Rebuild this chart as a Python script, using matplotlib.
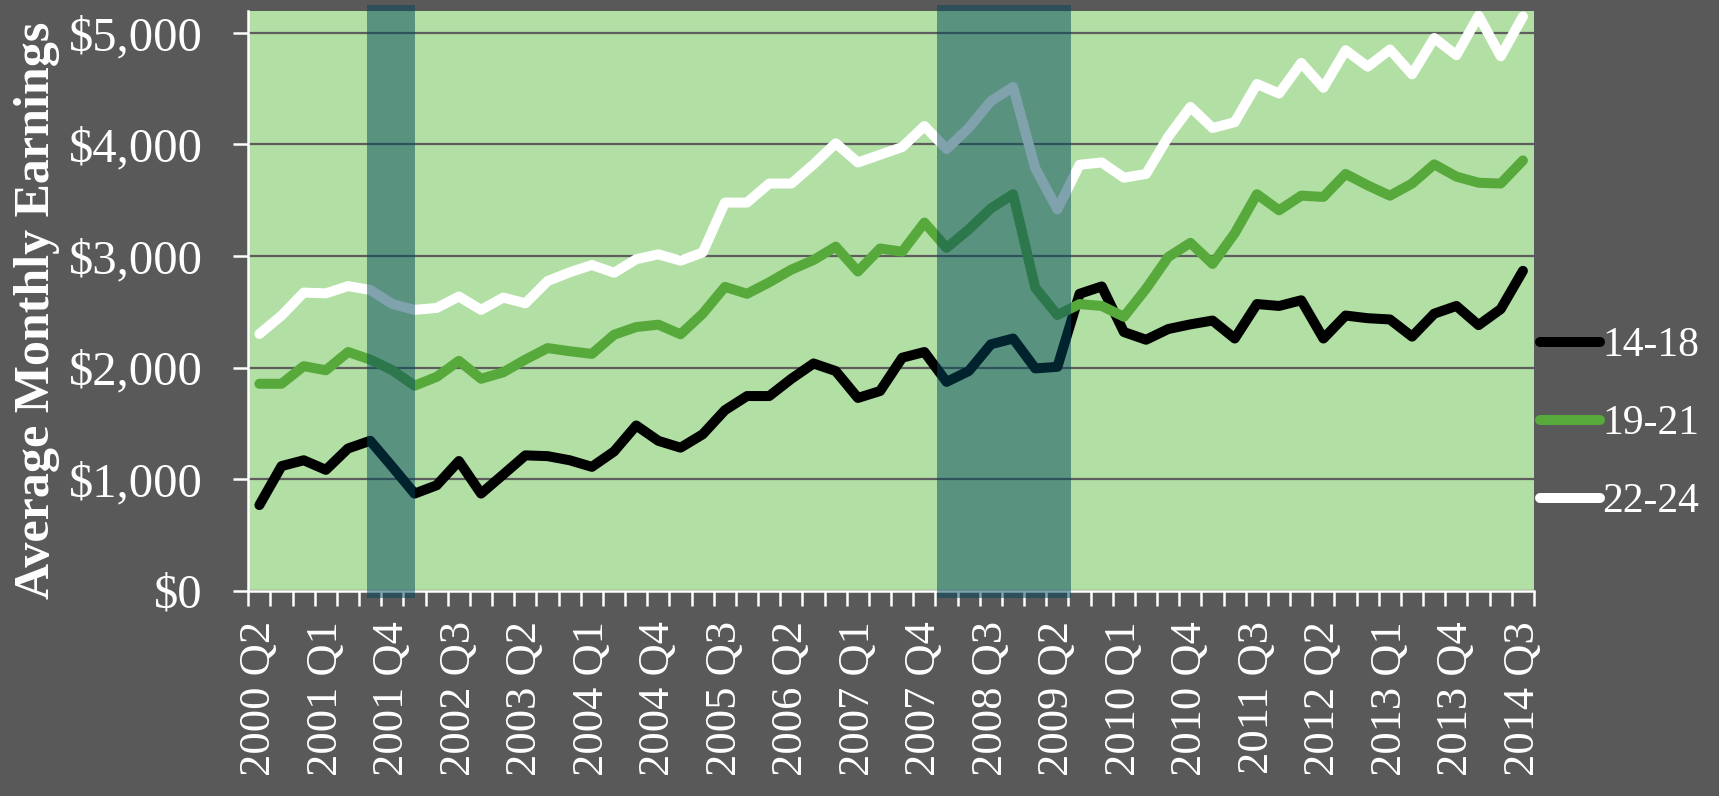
import matplotlib
matplotlib.use("Agg")
import matplotlib.pyplot as plt
from matplotlib.ticker import FixedLocator

# ---------------- data ----------------
tick_labels = ["2000 Q2", "2001 Q1", "2001 Q4", "2002 Q3", "2003 Q2", "2004 Q1",
               "2004 Q4", "2005 Q3", "2006 Q2", "2007 Q1", "2007 Q4", "2008 Q3",
               "2009 Q2", "2010 Q1", "2010 Q4", "2011 Q3", "2012 Q2", "2013 Q1",
               "2013 Q4", "2014 Q3"]

earn_14_18 = [766, 1116, 1168, 1082, 1274, 1343, 1109, 869, 944, 1161,
              869, 1040, 1212, 1205, 1168, 1109, 1247, 1480, 1342, 1281,
              1401, 1617, 1744, 1744, 1899, 2036, 1968, 1727, 1789, 2088,
              2139, 1871, 1968, 2208, 2260, 1992, 2006, 2661, 2727, 2318,
              2249, 2345, 2387, 2421, 2260, 2569, 2552, 2603, 2260, 2466,
              2442, 2431, 2277, 2483, 2552, 2380, 2524, 2867]

earn_19_21 = [1854, 1854, 2012, 1975, 2139, 2071, 1975, 1837, 1916, 2060,
              1899, 1957, 2071, 2174, 2146, 2122, 2294, 2363, 2384, 2298,
              2483, 2723, 2661, 2764, 2878, 2964, 3084, 2861, 3067, 3039,
              3300, 3073, 3238, 3427, 3554, 2716, 2471, 2569, 2552, 2455,
              2706, 2991, 3118, 2929, 3204, 3554, 3410, 3541, 3530, 3736,
              3633, 3541, 3650, 3822, 3712, 3657, 3650, 3857]

earn_22_24 = [2301, 2466, 2672, 2665, 2730, 2696, 2569, 2517, 2534, 2637,
              2517, 2627, 2576, 2775, 2854, 2919, 2850, 2971, 3015, 2958,
              3032, 3479, 3479, 3650, 3650, 3822, 4011, 3839, 3908, 3977,
              4166, 3959, 4149, 4389, 4516, 3788, 3418, 3818, 3839, 3702,
              3736, 4069, 4337, 4148, 4200, 4543, 4457, 4732, 4509, 4846,
              4698, 4852, 4629, 4955, 4801, 5155, 4791, 5148]

series_names = ["14-18", "19-21", "22-24"]
series_colors = ["#000000", "#58A93C", "#FFFFFF"]

# recession shading, in category positions (0 = 2000 Q2)
recession_start = [4.87, 30.58]
recession_end = [7.02, 36.61]

y_ticks = [0, 1000, 2000, 3000, 4000, 5000]
y_tick_labels = ["$0", "$1,000", "$2,000", "$3,000", "$4,000", "$5,000"]
y_label = "Average Monthly Earnings"

# ---------------- style ----------------
BG = "#595959"
PLOT_BG = "#B1DFA4"
FONT = "Liberation Serif"
plt.rcParams["font.family"] = [FONT, "DejaVu Serif"]

fig = plt.figure(figsize=(17.19, 7.96), dpi=100, facecolor=BG)
ax = fig.add_axes([248.3 / 1719, 205.5 / 796, 1285.7 / 1719, 579.8 / 796])
ax.set_facecolor(PLOT_BG)

n = len(earn_14_18)
x = list(range(n))
for vals, name, col, z in zip([earn_14_18, earn_19_21, earn_22_24],
                              series_names, series_colors, [3, 3.1, 3.2]):
    ax.plot(x, vals, color=col, lw=7.2, solid_capstyle="round",
            solid_joinstyle="round", label=name, zorder=z)

for s, e in zip(recession_start, recession_end):
    ax.axvspan(s, e, ymin=-0.0135, ymax=1.0105, color="#03475C", alpha=0.5,
               lw=0, zorder=6, clip_on=False)

ax.set_xlim(-0.5, n - 0.5)
ax.set_ylim(0, 5200)

ax.set_yticks(y_ticks)
ax.set_yticklabels(y_tick_labels)
ax.yaxis.grid(True, color="#5E5E5E", lw=1.6, zorder=1)
ax.set_axisbelow(True)

label_pos = list(range(0, n, 3))
ax.set_xticks(label_pos)
ax.set_xticklabels(tick_labels, rotation=90, ha="center", va="top")
ax.xaxis.set_minor_locator(FixedLocator([i - 0.5 for i in range(n + 1)]))

ax.tick_params(axis="x", which="major", length=0, pad=22,
               labelsize=32, labelcolor="white")
ax.tick_params(axis="x", which="minor", length=11, width=1.8,
               color="white", direction="out")
ax.tick_params(axis="y", which="major", length=11, width=1.8, color="white",
               pad=22, labelsize=35, labelcolor="white")

for side in ["top", "right"]:
    ax.spines[side].set_visible(False)
for side in ["left", "bottom"]:
    ax.spines[side].set_color("white")
    ax.spines[side].set_linewidth(1.8)

ax.set_ylabel(y_label, fontsize=36, fontweight="bold", color="white",
              va="center")
ax.yaxis.set_label_coords(-0.1643, 0.484)

leg = fig.legend(loc="center left", bbox_to_anchor=(1540 / 1719, 372 / 796),
                 frameon=False, fontsize=30, handlelength=1.45,
                 handletextpad=0.05, labelspacing=0.95, borderpad=0,
                 borderaxespad=0)
for t in leg.get_texts():
    t.set_color("white")
for h in leg.get_lines():
    h.set_linewidth(7.2)
    h.set_solid_capstyle("round")

fig.savefig("out.png", dpi=100, facecolor=BG)
